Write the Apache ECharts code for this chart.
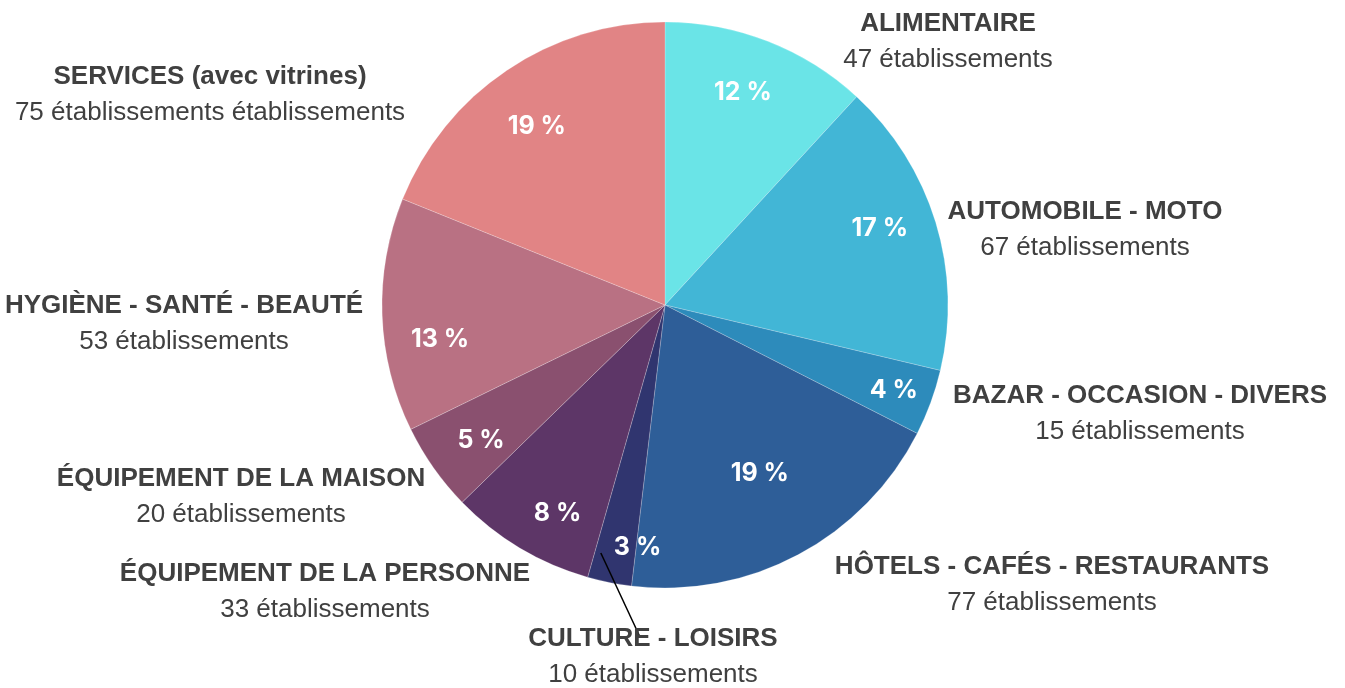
<!DOCTYPE html>
<html>
<head>
<meta charset="utf-8">
<script src="https://cdn.jsdelivr.net/npm/echarts@6/dist/echarts.min.js"></script>
<style>
  html, body { margin: 0; padding: 0; background: #fff; }
  #chart { width: 1345px; height: 688px; }
</style>
</head>
<body>
<div id="chart"></div>
<script>
const categories = [
  'ALIMENTAIRE',
  'AUTOMOBILE - MOTO',
  'BAZAR - OCCASION - DIVERS',
  'HÔTELS - CAFÉS - RESTAURANTS',
  'CULTURE - LOISIRS',
  'ÉQUIPEMENT DE LA PERSONNE',
  'ÉQUIPEMENT DE LA MAISON',
  'HYGIÈNE - SANTÉ - BEAUTÉ',
  'SERVICES (avec vitrines)'
]
const counts = [47, 67, 15, 77, 10, 33, 20, 53, 75]
const units = [
  'établissements', 'établissements', 'établissements', 'établissements',
  'établissements', 'établissements', 'établissements', 'établissements',
  'établissements établissements'
]

// layout only
const colors = ['#6ae4e7', '#42b6d6', '#2d8bbb', '#2e5e98', '#30356f', '#5d3667', '#8a506f', '#b97183', '#e18485']
const center = [665, 305]
const R = 283
const labelSpots = [
  [948, 42], [1085, 230], [1140, 414], [1052, 585], [653, 657],
  [325, 592], [241, 497], [184, 324], [210, 95]
]
// nudges for the percent labels
const pctNudge = [
  [-6, 3], [-6, -9], [12, 6], [-14, -35], [18, 16],
  [11, 10], [5, 3], [6, 26], [1, 13]
]
const guideIndex = 4

// start of the culture guide line: inside its slice, a bit past mid angle
const total = counts.reduce((a, b) => a + b, 0)
const before = counts.slice(0, guideIndex).reduce((a, b) => a + b, 0)
const guideAngle = (before + counts[guideIndex] * 0.85) / total * 2 * Math.PI
const guideStart = [
  center[0] + R * 0.905 * Math.sin(guideAngle),
  center[1] - R * 0.905 * Math.cos(guideAngle)
]

const chart = echarts.init(document.getElementById('chart'))

const pieBase = {
  type: 'pie',
  center: center,
  startAngle: 90,
  clockwise: true,
  silent: true,
  avoidLabelOverlap: false,
  emphasis: { disabled: true }
}

chart.setOption({
  animation: false,
  series: [
    {
      ...pieBase,
      name: 'slices',
      z: 1,
      radius: R,
      itemStyle: {
        borderColor: 'rgba(255,255,255,0.35)',
        borderWidth: 0.6
      },
      label: { show: false },
      labelLine: { show: false },
      data: categories.map((c, i) => ({
        name: c,
        value: counts[i],
        itemStyle: { color: colors[i] }
      }))
    },
    {
      ...pieBase,
      name: 'pct',
      z: 3,
      radius: [173, R],
      itemStyle: { color: 'transparent' },
      label: {
        show: true,
        position: 'inside',
        color: '#fff',
        fontSize: 25,
        fontWeight: 'bold',
        fontFamily: 'Inter, sans-serif',
        formatter: p => Math.round(p.percent) + ' %'
      },
      labelLine: { show: false },
      labelLayout: p => ({ dx: pctNudge[p.dataIndex][0], dy: pctNudge[p.dataIndex][1] }),
      data: categories.map((c, i) => ({ name: c, value: counts[i] }))
    },
    {
      ...pieBase,
      name: 'names',
      z: 5,
      radius: R,
      itemStyle: { color: 'transparent' },
      label: {
        show: true,
        position: 'outside',
        color: '#404040',
        formatter: p => `{b|${p.name}}\n{c|${p.value} ${units[p.dataIndex]}}`,
        rich: {
          b: { fontSize: 26, fontWeight: 'bold', color: '#404040', lineHeight: 36, align: 'center', fontFamily: 'Liberation Sans' },
          c: { fontSize: 26, color: '#404040', lineHeight: 36, align: 'center', fontFamily: 'Liberation Sans' }
        }
      },
      labelLine: { show: false },
      labelLayout: p => {
        const spot = labelSpots[p.dataIndex]
        const out = { x: spot[0], y: spot[1], align: 'center', verticalAlign: 'middle' }
        if (p.dataIndex === guideIndex) {
          out.labelLinePoints = [guideStart, guideStart, [spot[0] - 13, spot[1] - 20]]
        }
        return out
      },
      data: categories.map((c, i) => ({
        name: c,
        value: counts[i],
        labelLine: i === guideIndex
          ? { show: true, lineStyle: { color: '#000', width: 1.5 } }
          : { show: false }
      }))
    }
  ]
})
</script>
</body>
</html>
